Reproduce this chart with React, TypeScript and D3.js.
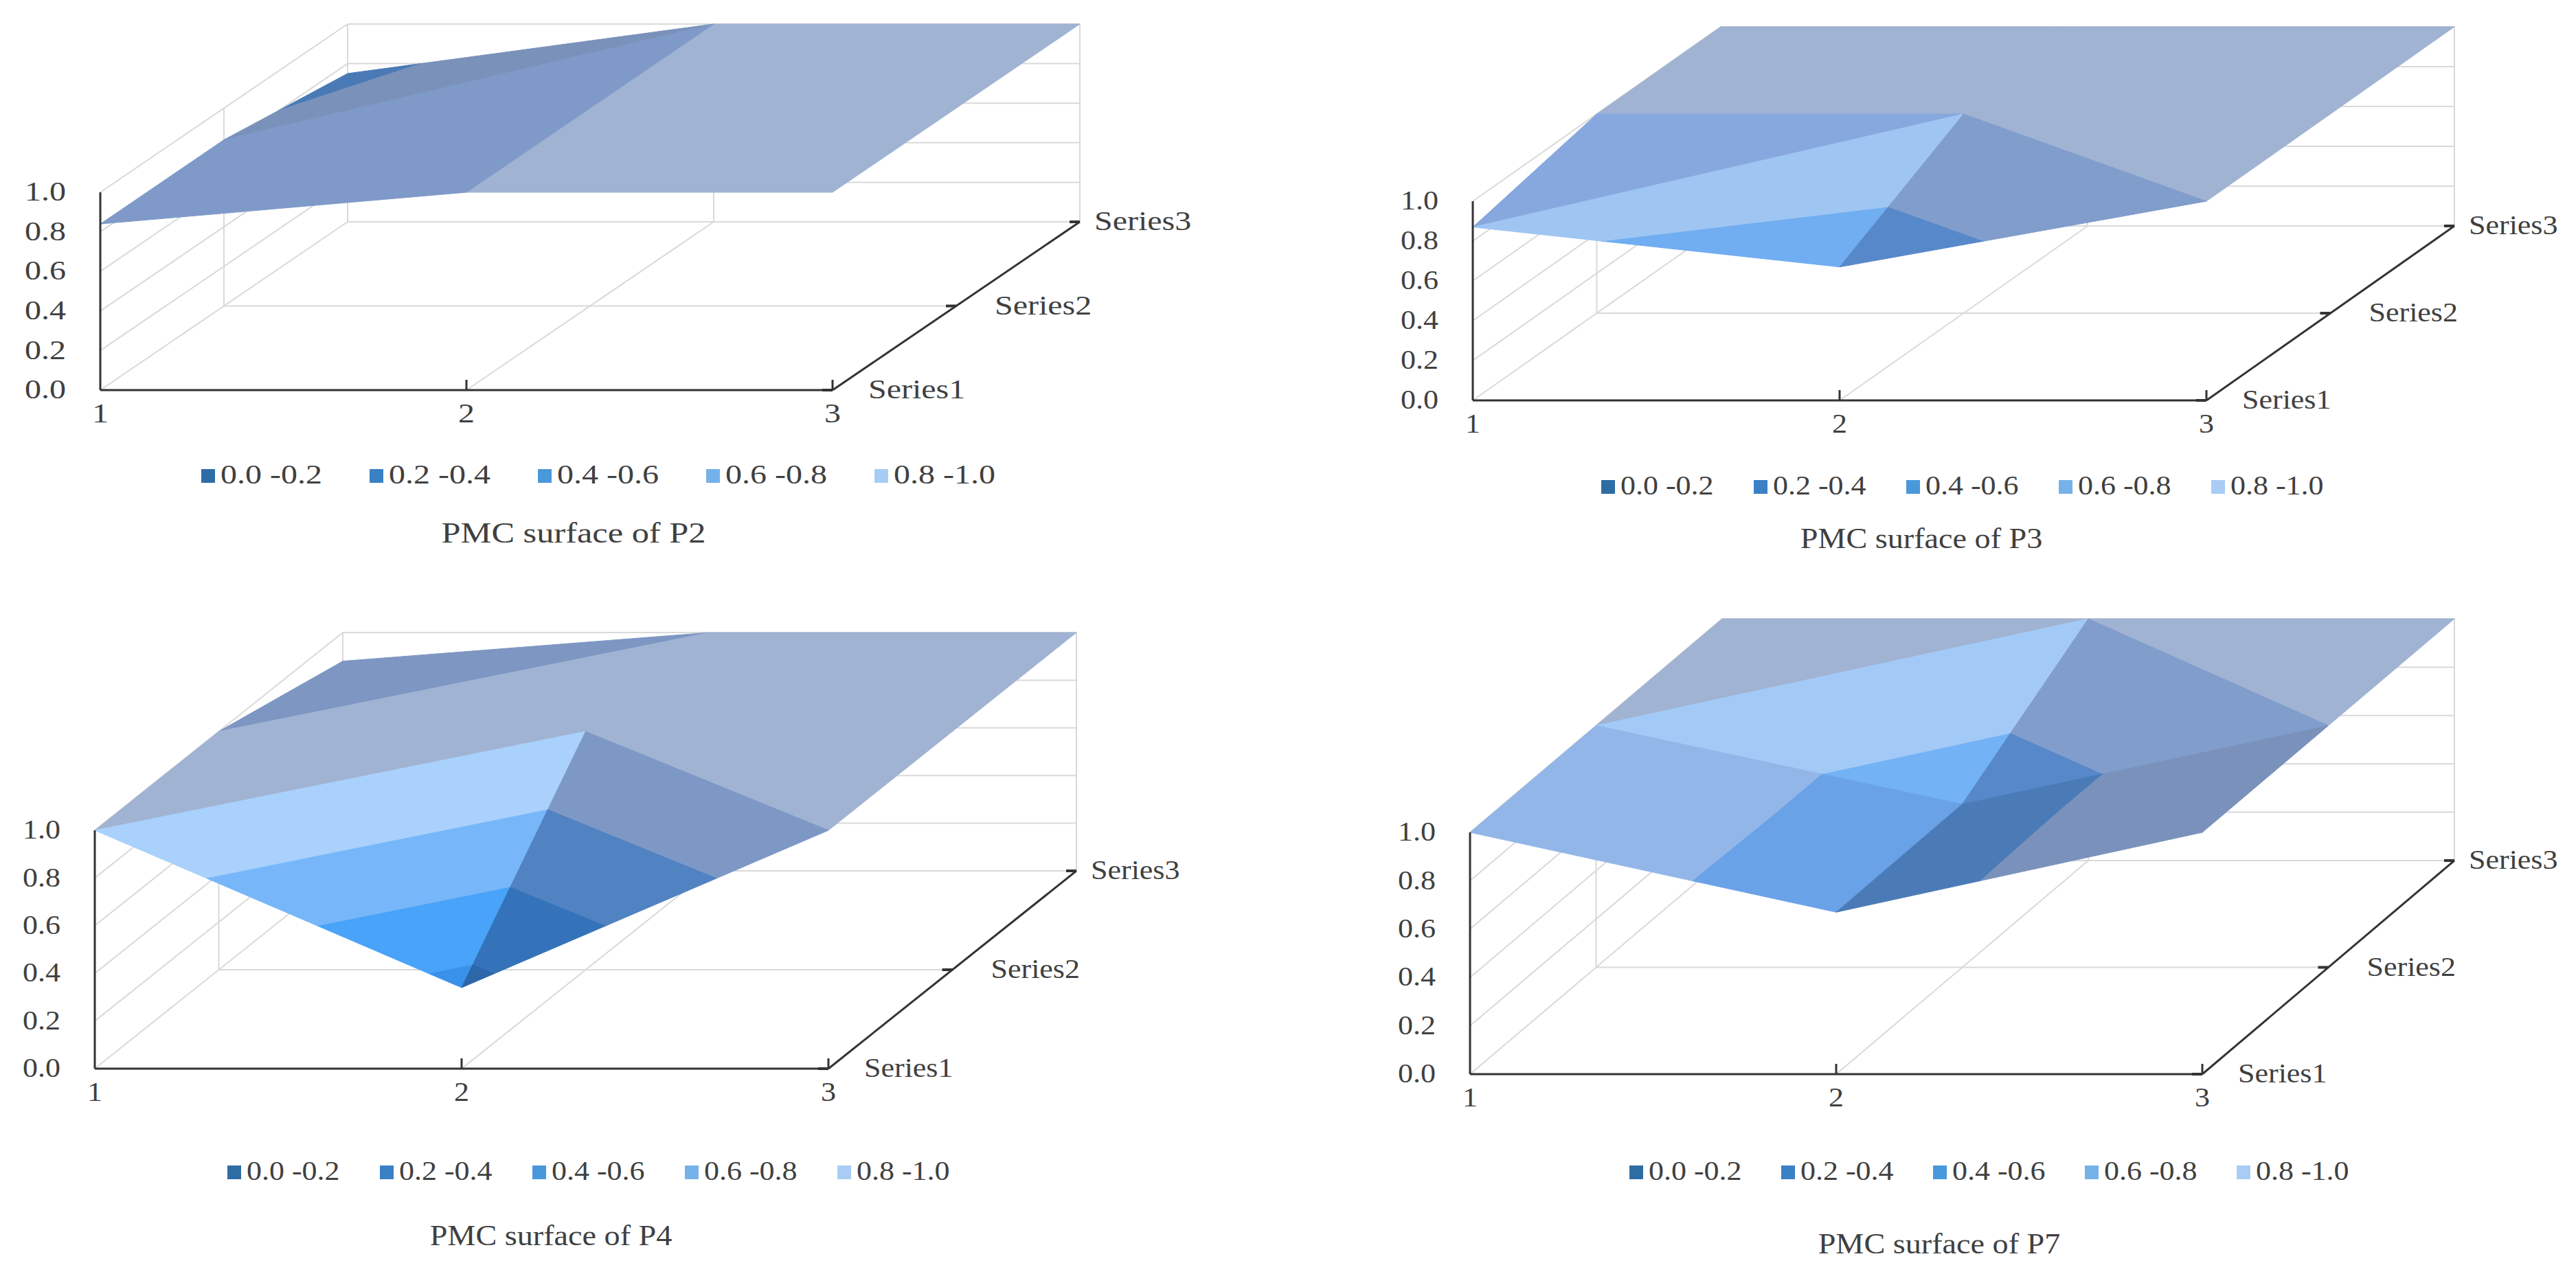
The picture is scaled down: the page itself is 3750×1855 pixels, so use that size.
import React from 'react';
import * as d3 from 'd3';

// ---------- data ----------
const categories = ['1', '2', '3'];
const seriesNames = ['Series1', 'Series2', 'Series3'];
const valueTicks = [0, 0.2, 0.4, 0.6, 0.8, 1.0];
const bandEdges = [0, 0.2, 0.4, 0.6, 0.8, 1.0];
const bandLabels = ['0.0 -0.2', '0.2 -0.4', '0.4 -0.6', '0.6 -0.8', '0.8 -1.0'];
const legendColors = ['#2e6ca4', '#3a80c4', '#4a98dc', '#76b2ea', '#a8ccf4'];

// values per series (Series1..3), one per category (1..3)
const p2Series1 = [0.84, 1.0, 1.0];
const p2Series2 = [0.84, 1.0, 1.0];
const p2Series3 = [0.75, 1.0, 1.0];

const p3Series1 = [0.87, 0.67, 1.0];
const p3Series2 = [1.0, 1.0, 1.0];
const p3Series3 = [1.0, 1.0, 1.0];

const p4Series1 = [1.0, 0.34, 1.0];
const p4Series2 = [1.0, 1.0, 1.0];
const p4Series3 = [0.88, 1.0, 1.0];

const p7Series1 = [1.0, 0.67, 1.0];
const p7Series2 = [1.0, 0.675, 1.0];
const p7Series3 = [1.0, 1.0, 1.0];

const chartTitles = ['PMC surface of P2', 'PMC surface of P3', 'PMC surface of P4', 'PMC surface of P7'];

// ---------- layout ----------
const panels = [
  { grid: [p2Series1, p2Series2, p2Series3], title: chartTitles[0],
    x0: 146, y0: 568, w: 1066, dx: 360, dy: -245, h: 288,
    legendX: 293, legendStep: 245, legendY: 693, titleX: 835, titleY: 778, ts: 1.2 },
  { grid: [p3Series1, p3Series2, p3Series3], title: chartTitles[1],
    x0: 2144, y0: 583, w: 1068, dx: 361, dy: -254, h: 290,
    legendX: 2331, legendStep: 222, legendY: 709, titleX: 2797, titleY: 786, ts: 1.1 },
  { grid: [p4Series1, p4Series2, p4Series3], title: chartTitles[2],
    x0: 138, y0: 1556, w: 1068, dx: 361, dy: -288, h: 347,
    legendX: 331, legendStep: 222, legendY: 1707, titleX: 802, titleY: 1801, ts: 1.1 },
  { grid: [p7Series1, p7Series2, p7Series3], title: chartTitles[3],
    x0: 2140, y0: 1564, w: 1066, dx: 367, dy: -311, h: 352,
    legendX: 2372, legendStep: 221, legendY: 1707, titleX: 2823, titleY: 1813, ts: 1.1 },
];
const seriesLabelOffsets = [52, 56, 21];

const FONT = '"Liberation Serif", "Times New Roman", serif';
const TEXT = '#404040';
const GRID = '#d9d9d9';
const AXIS = '#333333';

// ---------- shading ----------
const ramps: number[][][] = [
  [[32, 80, 135], [42, 105, 178], [48, 120, 200]],
  [[40, 95, 155], [52, 125, 205], [58, 144, 232]],
  [[48, 105, 170], [62, 140, 222], [72, 162, 248]],
  [[74, 122, 182], [100, 152, 224], [118, 182, 248]],
  [[122, 145, 186], [136, 169, 224], [168, 208, 250]],
];
const flatTop = [160, 179, 211];

function shade(band: number, tRaw: number, u: number) {
  const t = Math.max(-25, Math.min(70, tRaw));
  const [c0, c1, c2] = ramps[band];
  let col: number[];
  if (t <= 40) {
    const k = t / 40;
    col = c0.map((v, i) => v + k * (c1[i] - v));
  } else {
    const k = (t - 40) / 24;
    col = c1.map((v, i) => v + k * (c2[i] - v));
  }
  const wgt = Math.pow(Math.max(0, u), 200);
  if (band === 4) col = col.map((v, i) => v + wgt * (flatTop[i] - v));
  const c = col.map((v) => Math.max(0, Math.min(255, Math.round(v))));
  return d3.rgb(c[0], c[1], c[2]).formatHex();
}

type P3 = { x: number; z: number; v: number };

function clipPoly(poly: P3[], level: number, keepAbove: boolean): P3[] {
  const out: P3[] = [];
  const eps = 1e-9;
  for (let i = 0; i < poly.length; i++) {
    const a = poly[i];
    const b = poly[(i + 1) % poly.length];
    const ina = keepAbove ? a.v >= level - eps : a.v <= level + eps;
    const inb = keepAbove ? b.v >= level - eps : b.v <= level + eps;
    if (ina) out.push(a);
    if (ina !== inb) {
      const t = (level - a.v) / (b.v - a.v);
      out.push({ x: a.x + t * (b.x - a.x), z: a.z + t * (b.z - a.z), v: level });
    }
  }
  return out;
}

function Panel({ p }: { p: (typeof panels)[number] }) {
  const xS = d3.scaleLinear().domain([0, 2]).range([p.x0, p.x0 + p.w]);
  const zSx = d3.scaleLinear().domain([0, 2]).range([0, p.dx]);
  const zSy = d3.scaleLinear().domain([0, 2]).range([0, p.dy]);
  const vS = d3.scaleLinear().domain([0, 1]).range([0, p.h]);
  const catS = d3.scalePoint<string>().domain(categories).range([0, 2]);
  const serS = d3.scalePoint<string>().domain(seriesNames).range([0, 2]);

  const P = (x: number, z: number, v: number): [number, number] => [
    xS(x) + zSx(z),
    p.y0 - vS(v) + zSy(z),
  ];
  const line = (a: [number, number], b: [number, number]) => `M${a[0]},${a[1]}L${b[0]},${b[1]}`;

  // gridlines (walls + floor)
  const gridPaths: string[] = [];
  valueTicks.forEach((v) => {
    gridPaths.push(line(P(0, 2, v), P(2, 2, v))); // back wall
    gridPaths.push(line(P(0, 0, v), P(0, 2, v))); // side wall
  });
  categories.forEach((c) => {
    const i = catS(c)!;
    gridPaths.push(line(P(i, 2, 0), P(i, 2, 1)));
  });
  gridPaths.push(line(P(0, 1, 0), P(0, 1, 1)));
  gridPaths.push(line(P(1, 0, 0), P(1, 2, 0)));
  gridPaths.push(line(P(0, 1, 0), P(2, 1, 0)));

  // surface triangles
  const g = p.grid;
  const pt = (i: number, j: number): P3 => ({ x: i, z: j, v: g[j][i] });
  const tris: P3[][] = [];
  for (let j = 0; j < 2; j++) {
    for (let i = 0; i < 2; i++) {
      const a = pt(i, j), b = pt(i + 1, j), c = pt(i, j + 1), d = pt(i + 1, j + 1);
      if (a.v + d.v >= b.v + c.v - 1e-9) {
        tris.push([a, b, d], [a, d, c]);
      } else {
        tris.push([a, b, c], [b, d, c]);
      }
    }
  }
  type Piece = { d: string; fill: string; depth: number };
  const pieces: Piece[] = [];
  tris.forEach((tri) => {
    const [a, b, c] = tri;
    const e1 = [b.x - a.x, 2 * (b.v - a.v), b.z - a.z];
    const e2 = [c.x - a.x, 2 * (c.v - a.v), c.z - a.z];
    let n = [
      e1[1] * e2[2] - e1[2] * e2[1],
      e1[2] * e2[0] - e1[0] * e2[2],
      e1[0] * e2[1] - e1[1] * e2[0],
    ];
    if (n[1] < 0) n = n.map((v) => -v);
    const len = Math.hypot(n[0], n[1], n[2]) || 1;
    n = n.map((v) => v / len);
    const r = n[0], u = n[1], f = -n[2];
    const t = 43 * r + 29 * u + 39 * f;
    const xc = (a.x + b.x + c.x) / 3, zc = (a.z + b.z + c.z) / 3, vc = (a.v + b.v + c.v) / 3;
    const depth = zc - 0.338 * xc - 0.415 * vc;
    for (let band = 0; band < 5; band++) {
      let poly = clipPoly(tri, bandEdges[band], true);
      if (poly.length < 3) continue;
      poly = clipPoly(poly, bandEdges[band + 1], false);
      if (poly.length < 3) continue;
      const pts = poly.map((q) => P(q.x, q.z, q.v));
      const area = Math.abs(d3.polygonArea(pts));
      if (area < 0.5) continue;
      pieces.push({
        d: 'M' + pts.map((q) => q.join(',')).join('L') + 'Z',
        fill: shade(band, t, u),
        depth: depth - band * 1e-6,
      });
    }
  });
  pieces.sort((m, q) => q.depth - m.depth);

  const textT = (x: number, y: number) => `translate(${x},${y}) scale(${p.ts},1)`;
  const origin = P(0, 0, 0);

  return (
    <g>
      {gridPaths.map((d, k) => (
        <path key={'g' + k} d={d} stroke={GRID} strokeWidth={2} fill="none" />
      ))}
      {pieces.map((pc, k) => (
        <path key={'s' + k} d={pc.d} fill={pc.fill} stroke={pc.fill} strokeWidth={1} strokeLinejoin="round" />
      ))}
      {/* axes */}
      <path d={line(P(0, 0, 0), P(0, 0, 1))} stroke={AXIS} strokeWidth={3} />
      <path d={line(P(0, 0, 0), P(2, 0, 0))} stroke={AXIS} strokeWidth={3} />
      <path d={line(P(2, 0, 0), P(2, 2, 0))} stroke={AXIS} strokeWidth={3} />
      {categories.slice(1).map((c) => {
        const [x, y] = P(catS(c)!, 0, 0);
        return <path key={'xt' + c} d={`M${x},${y}L${x},${y - 15}`} stroke={AXIS} strokeWidth={3} />;
      })}
      {seriesNames.map((s) => {
        const [x, y] = P(2, serS(s)!, 0);
        return <path key={'dt' + s} d={`M${x - 15},${y}L${x},${y}`} stroke={AXIS} strokeWidth={4} />;
      })}
      {/* value labels */}
      {valueTicks.map((v) => {
        const [, y] = P(0, 0, v);
        return (
          <text key={'yl' + v} transform={textT(origin[0] - 50, y + 3)} textAnchor="end"
            dominantBaseline="middle" fontFamily={FONT} fontSize={40} fill={TEXT}>
            {d3.format('.1f')(v)}
          </text>
        );
      })}
      {categories.map((c) => {
        const [x, y] = P(catS(c)!, 0, 0);
        return (
          <text key={'xl' + c} transform={textT(x, y + 38)} textAnchor="middle"
            dominantBaseline="middle" fontFamily={FONT} fontSize={40} fill={TEXT}>
            {c}
          </text>
        );
      })}
      {seriesNames.map((s, k) => {
        const [x, y] = P(2, serS(s)!, 0);
        return (
          <text key={'sl' + s} transform={textT(x + seriesLabelOffsets[k], y + 3)} textAnchor="start"
            dominantBaseline="middle" fontFamily={FONT} fontSize={40} fill={TEXT}>
            {s}
          </text>
        );
      })}
      {/* legend */}
      {bandLabels.map((lab, k) => {
        const lx = p.legendX + k * p.legendStep;
        return (
          <g key={'lg' + k}>
            <rect x={lx} y={p.legendY - 10} width={20} height={20} fill={legendColors[k]} />
            <text transform={textT(lx + 28, p.legendY + 2)} textAnchor="start" dominantBaseline="middle"
              fontFamily={FONT} fontSize={40} fill={TEXT}>
              {lab}
            </text>
          </g>
        );
      })}
      <text transform={textT(p.titleX, p.titleY + 2)} textAnchor="middle" dominantBaseline="middle"
        fontFamily={FONT} fontSize={42} fill={TEXT}>
        {p.title}
      </text>
    </g>
  );
}

export default function App() {
  return (
    <>
      <style>{`html,body{margin:0;padding:0;background:#fff;overflow:hidden}`}</style>
      <svg width={3750} height={1855} viewBox="0 0 3750 1855" style={{ display: 'block', background: '#fff' }}>
        {panels.map((p, k) => (
          <Panel key={k} p={p} />
        ))}
      </svg>
    </>
  );
}
